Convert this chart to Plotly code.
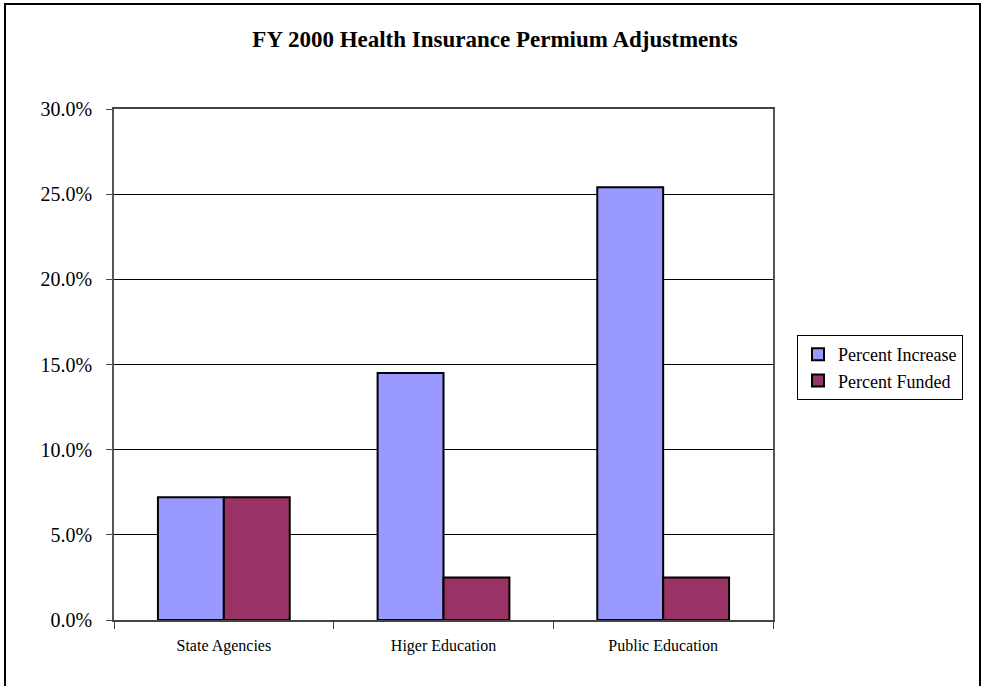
import plotly.graph_objects as go

categories = ["State Agencies", "Higer Education", "Public Education"]
percent_increase = [0.072, 0.145, 0.254]
percent_funded = [0.072, 0.025, 0.025]
series_names = ["Percent Increase", "Percent Funded"]
tick_vals = [0, 0.05, 0.10, 0.15, 0.20, 0.25, 0.30]

W, H = 982, 686
L, R, T, B = 114, 209, 109, 66
pw, ph = W - L - R, H - T - B

serif = "Liberation Serif, Times New Roman, serif"

fig = go.Figure()
fig.add_trace(go.Bar(x=categories, y=percent_increase, name=series_names[0],
                     marker=dict(color="#9999FF", line=dict(color="black", width=2))))
fig.add_trace(go.Bar(x=categories, y=percent_funded, name=series_names[1],
                     marker=dict(color="#993366", line=dict(color="black", width=2))))

fig.update_layout(
    width=W, height=H,
    margin=dict(l=L, r=R, t=T, b=B),
    paper_bgcolor="white", plot_bgcolor="white",
    barmode="group", bargap=0.4, bargroupgap=0,
    font=dict(family=serif, color="black"),
    title=dict(text="<b>FY 2000 Health Insurance Permium Adjustments</b>",
               x=(495) / W, xanchor="center", y=1 - 39 / H, yanchor="middle",
               font=dict(size=23, family=serif, color="black")),
    showlegend=True,
    legend=dict(x=(797 - L) / pw, y=(620 - 335) / ph, xanchor="left", yanchor="top",
                bordercolor="black", borderwidth=1, bgcolor="white",
                font=dict(size=18, family=serif), itemwidth=30, tracegroupgap=4),
    xaxis=dict(showline=True, linecolor="#444", linewidth=1.5, mirror=True,
               ticks="outside", tickson="boundaries", ticklen=7, tickcolor="#444",
               ticklabelstandoff=10,
               tickfont=dict(size=16, family=serif), showgrid=False),
    yaxis=dict(range=[0, 0.30], tickvals=tick_vals, tickformat=".1%",
               showline=True, linecolor="#555", linewidth=1.5, mirror=True,
               ticks="outside", ticklen=6, tickcolor="#444",
               ticklabelstandoff=10,
               showgrid=True, gridcolor="black", gridwidth=1,
               tickfont=dict(size=20, family=serif), zeroline=False),
)
# outer chart frame
fig.add_shape(type="rect", xref="paper", yref="paper",
              x0=(5 - L) / pw, x1=(980 - L) / pw,
              y0=(620 - 700) / ph, y1=(620 - 4) / ph,
              line=dict(color="black", width=2))

fig.write_html("out.html")
